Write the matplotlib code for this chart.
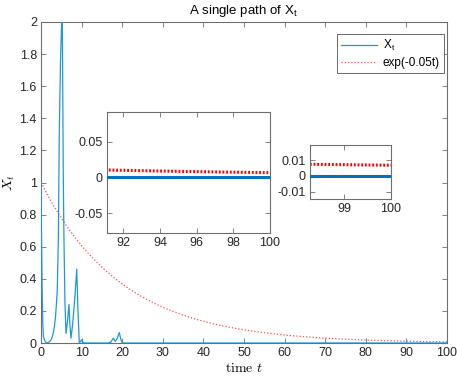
import numpy as np
import matplotlib
matplotlib.use("Agg")
import matplotlib.pyplot as plt

plt.rcParams['font.family'] = ['Liberation Sans', 'DejaVu Sans']
plt.rcParams['mathtext.fontset'] = 'cm'

# ---- data ----
t_path = [0.0, 0.15, 0.3, 0.45, 0.6, 0.9, 1.2, 1.4, 1.8, 2.2, 2.6, 3.0, 3.3, 3.6, 4.0,
          4.27, 4.5, 4.8, 5.05, 5.25, 5.35, 5.5, 5.66, 5.9, 6.16, 6.5, 6.9, 7.1, 7.39,
          7.8, 8.3, 8.8, 9.1, 9.44, 9.75, 10.0, 10.3, 10.6, 16.5, 17.2, 17.8, 18.3,
          18.8, 19.3, 19.6, 19.9, 20.3, 100.0]
x_path = [1.0, 0.62, 0.3, 0.12, 0.04, 0.015, 0.005, 0.0, 0.003, 0.01, 0.025, 0.06, 0.1,
          0.17, 0.32, 0.64, 1.3, 1.75, 1.97, 2.0, 1.6, 1.0, 0.64, 0.25, 0.06, 0.13, 0.24,
          0.12, 0.03, 0.12, 0.27, 0.46, 0.2, 0.0, 0.01, 0.02, 0.005, 0.0, 0.0, 0.005, 0.03,
          0.01, 0.03, 0.065, 0.03, 0.005, 0.0, 0.0]
t_exp = np.linspace(0, 100, 1001)
exp_rate = -0.05
x_exp = np.exp(exp_rate * t_exp)

main_xticks = list(range(0, 101, 10))
main_yticks = [0, 0.2, 0.4, 0.6, 0.8, 1.0, 1.2, 1.4, 1.6, 1.8, 2.0]
main_yticklabels = ['0', '0.2', '0.4', '0.6', '0.8', '1', '1.2', '1.4', '1.6', '1.8', '2']
in1_xticks = [92, 94, 96, 98, 100]
in1_yticks = [-0.05, 0, 0.05]
in1_yticklabels = ['-0.05', '0', '0.05']
in2_xticks = [99, 100]
in2_yticks = [-0.01, 0, 0.01]
in2_yticklabels = ['-0.01', '0', '0.01']

# ---- styling ----
blue_main = '#1d9ad6'
blue_in = '#0072BD'
red = '#ff0000'
spine_col = '#6e6e6e'
txt_col = '#262626'
fs = 9

fig = plt.figure(figsize=(4.57, 3.76), dpi=100)

def style_ax(ax):
    for s in ax.spines.values():
        s.set_color(spine_col)
        s.set_linewidth(0.8)
    ax.tick_params(direction='in', top=True, right=True, length=3.5, width=0.6,
                   color=spine_col, labelsize=fs, labelcolor=txt_col, pad=3)

ax = fig.add_axes([41/457, 1-343/376, (447-41)/457, (343-22)/376])
ax.plot(t_path, x_path, color=blue_main, lw=0.9, label=r'X$_\mathregular{t}$', zorder=3)
ax.plot(t_exp, x_exp, color='#ff4d4d', lw=0.9, ls=(0, (1, 1.6)), label='exp(-0.05t)', zorder=2)
ax.set_xlim(0, 100)
ax.set_ylim(0, 2)
ax.set_xticks(main_xticks)
ax.set_yticks(main_yticks)
ax.set_yticklabels(main_yticklabels)
style_ax(ax)
ax.set_title(r'A single path of X$_\mathregular{t}$', fontsize=9.5, color='black', pad=6)
ax.set_xlabel(r'$\mathrm{time}\ t$', fontsize=10, labelpad=1)
ax.set_ylabel(r'$X_t$', fontsize=10, labelpad=2)
leg = ax.legend(loc='upper right', bbox_to_anchor=(0.9926, 0.9626), borderaxespad=0,
                fontsize=8.5, frameon=True, fancybox=False, handlelength=3.0,
                handletextpad=0.5, borderpad=0.35, labelspacing=0.3)
leg.get_frame().set_edgecolor('#262626')
leg.get_frame().set_linewidth(0.6)

# inset 1
ax1 = fig.add_axes([107/457, 1-233/376, (270-107)/457, (233-112)/376])
ax1.plot(t_path, x_path, color=blue_in, lw=2.2, zorder=3)
ax1.plot(t_exp, x_exp, color=red, lw=2.2, ls=(0, (0.6, 0.6)), zorder=2)
ax1.set_xlim(91.1, 100)
ax1.set_ylim(-0.078, 0.092)
ax1.set_xticks(in1_xticks)
ax1.set_yticks(in1_yticks)
ax1.set_yticklabels(in1_yticklabels)
style_ax(ax1)

# inset 2
ax2 = fig.add_axes([310/457, 1-199/376, (391-310)/457, (199-145)/376])
ax2.plot(t_path, x_path, color=blue_in, lw=2.2, zorder=3)
ax2.plot(t_exp, x_exp, color=red, lw=2.2, ls=(0, (0.6, 0.6)), zorder=2)
ax2.set_xlim(98.28, 100)
ax2.set_ylim(-0.0144, 0.0194)
ax2.set_xticks(in2_xticks)
ax2.set_yticks(in2_yticks)
ax2.set_yticklabels(in2_yticklabels)
style_ax(ax2)

fig.savefig('out.png', dpi=100)
